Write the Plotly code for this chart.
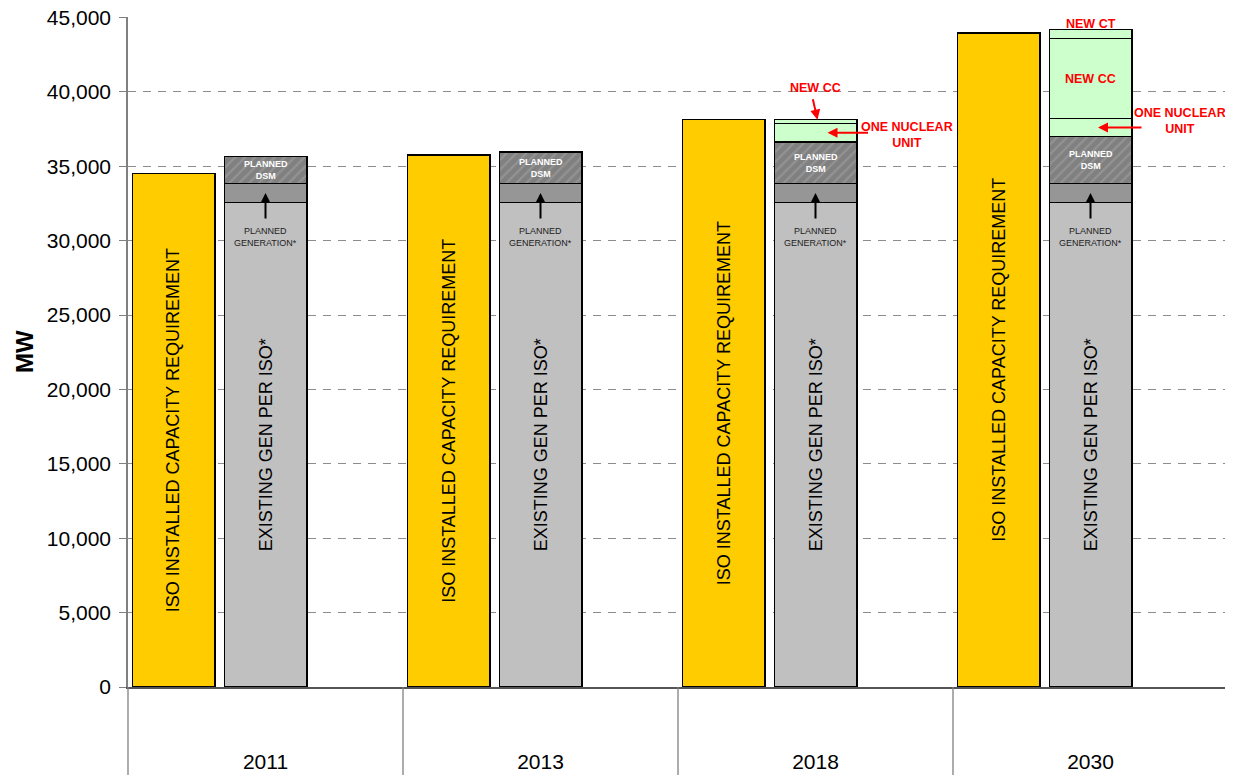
import plotly.graph_objects as go

# ---------------- data ----------------
years = ["2011", "2013", "2018", "2030"]
requirement = [34500, 35750, 38130, 43970]     # ISO installed capacity requirement
existing = [32550, 32550, 32550, 32550]        # existing gen per ISO
planned_gen = [1300, 1300, 1300, 1300]         # planned generation
planned_dsm = [1820, 2100, 2780, 3160]         # planned DSM
nuclear = [None, None, 1230, 1190]             # one nuclear unit
new_cc = [None, None, 270, 5390]               # new CC
new_ct = [None, None, None, 600]               # new CT
y_ticks = [0, 5000, 10000, 15000, 20000, 25000, 30000, 35000, 40000, 45000]

FONT = "Arial, Liberation Sans, sans-serif"
n = len(years)
x_req = [3 * i for i in range(n)]
x_gen = [3 * i + 1 for i in range(n)]
LINE = dict(color="#000000", width=1.5)
W = 0.9

fig = go.Figure()
fig.add_trace(go.Bar(x=x_req, y=requirement, width=W, marker=dict(color="#FFCC00", line=LINE),
                     name="ISO INSTALLED CAPACITY REQUIREMENT"))
fig.add_trace(go.Bar(x=x_gen, y=existing, width=W, marker=dict(color="#C0C0C0", line=LINE),
                     name="EXISTING GEN PER ISO*"))
fig.add_trace(go.Bar(x=x_gen, y=planned_gen, width=W, marker=dict(color="#969696", line=LINE),
                     name="PLANNED GENERATION*"))
fig.add_trace(go.Bar(x=x_gen, y=planned_dsm, width=W,
                     marker=dict(color="#808080", line=LINE,
                                 pattern=dict(shape="/", fgcolor="#a8a8a8", bgcolor="#808080",
                                              size=7, solidity=0.3)),
                     name="PLANNED DSM"))
fig.add_trace(go.Bar(x=x_gen, y=nuclear, width=W, marker=dict(color="#CCFFCC", line=LINE),
                     name="ONE NUCLEAR UNIT"))
fig.add_trace(go.Bar(x=x_gen, y=new_cc, width=W, marker=dict(color="#CCFFCC", line=LINE),
                     name="NEW CC"))
fig.add_trace(go.Bar(x=x_gen, y=new_ct, width=W, marker=dict(color="#CCFFCC", line=LINE),
                     name="NEW CT"))

ann = []
RED = "#FF0000"
RSIZE = 12.5
for i in range(n):
    xr, xg = x_req[i], x_gen[i]
    ann.append(dict(x=xr, y=requirement[i] / 2, text="ISO INSTALLED CAPACITY REQUIREMENT",
                    textangle=-90, showarrow=False, font=dict(family=FONT, size=18, color="#000")))
    ann.append(dict(x=xg, y=existing[i] / 2, text="EXISTING GEN PER ISO*",
                    textangle=-90, showarrow=False, font=dict(family=FONT, size=18, color="#000")))
    base_dsm = existing[i] + planned_gen[i]
    ann.append(dict(x=xg, y=base_dsm + planned_dsm[i] / 2, text="<b>PLANNED<br>DSM</b>",
                    showarrow=False, font=dict(family=FONT, size=9, color="#ffffff")))
    ann.append(dict(x=xg, y=existing[i] + planned_gen[i] / 2, text="", showarrow=True,
                    ax=0, ay=27, arrowhead=2, arrowsize=1, arrowwidth=2, arrowcolor="#000"))
    ann.append(dict(x=xg, y=existing[i], yshift=-34, text="PLANNED<br>GENERATION*",
                    showarrow=False, font=dict(family=FONT, size=9, color="#222")))
    top_nuc = base_dsm + planned_dsm[i]
    if nuclear[i] is not None:
        nuc_mid = top_nuc + nuclear[i] / 2
        cc_top = top_nuc + nuclear[i] + (new_cc[i] or 0)
        if new_ct[i] is None:
            # small CC sliver: label above the bar with arrow
            ann.append(dict(x=xg, y=cc_top, yshift=32, text="<b>NEW CC</b>", showarrow=False,
                            font=dict(family=FONT, size=RSIZE, color=RED)))
            ann.append(dict(x=xg, y=cc_top, xshift=2, text="", showarrow=True, ax=-5, ay=-22,
                            arrowhead=2, arrowsize=1, arrowwidth=2, arrowcolor=RED))
            ann.append(dict(x=xg, y=nuc_mid, xshift=12, text="", showarrow=True, ax=42, ay=0,
                            arrowhead=2, arrowsize=1, arrowwidth=2, arrowcolor=RED))
            ann.append(dict(x=xg, y=nuc_mid, xshift=91, yshift=-2, text="<b>ONE NUCLEAR<br>UNIT</b>",
                            showarrow=False, font=dict(family=FONT, size=RSIZE, color=RED)))
        else:
            total = cc_top + new_ct[i]
            ann.append(dict(x=xg, y=total, yshift=6, text="<b>NEW CT</b>", showarrow=False,
                            font=dict(family=FONT, size=RSIZE, color=RED)))
            ann.append(dict(x=xg, y=top_nuc + nuclear[i] + new_cc[i] / 2, text="<b>NEW CC</b>",
                            showarrow=False, font=dict(family=FONT, size=RSIZE, color=RED)))
            ann.append(dict(x=xg, y=nuc_mid, xshift=7.5, text="", showarrow=True, ax=45, ay=0,
                            arrowhead=2, arrowsize=1, arrowwidth=2, arrowcolor=RED))
            ann.append(dict(x=xg, y=nuc_mid, xshift=89.5, yshift=6, text="<b>ONE NUCLEAR<br>UNIT</b>",
                            showarrow=False, font=dict(family=FONT, size=RSIZE, color=RED)))

# y-axis title
ann.append(dict(xref="paper", yref="paper", x=-0.0945, y=0.5, xanchor="center", yanchor="middle",
                text="<b>MW</b>", textangle=-90, showarrow=False,
                font=dict(family=FONT, size=24, color="#000")))

# category-axis dividers (multi-level Excel style)
shapes = []
for k in range(n + 1):
    shapes.append(dict(type="line", xref="paper", yref="paper", x0=k / n, x1=k / n,
                       y0=0, y1=-0.14, line=dict(color="#808080", width=1.3)))

# page body has an 8px margin, so the figure is 8px smaller and margins shifted
fig.update_layout(
    width=1225, height=767,
    margin=dict(l=120, r=5, t=9, b=88, autoexpand=False),
    paper_bgcolor="#ffffff", plot_bgcolor="#ffffff",
    barmode="stack", showlegend=False,
    font=dict(family=FONT, color="#000"),
    annotations=ann, shapes=shapes,
    xaxis=dict(range=[-0.5, 3 * n - 0.5], tickvals=[3 * i + 1 for i in range(n)], ticktext=years,
               ticks="", showgrid=False, zeroline=False, showline=True, linecolor="#555555",
               linewidth=1.5, tickfont=dict(family=FONT, size=21, color="#000"),
               ticklabelstandoff=55, automargin=False),
    yaxis=dict(range=[0, 45030], tickvals=y_ticks, tickformat=",d", ticks="outside", ticklen=7,
               tickcolor="#808080", showline=True, linecolor="#808080", linewidth=1.5,
               showgrid=True, gridcolor="#8c8c8c", gridwidth=1, griddash="8px,7px",
               zeroline=False, tickfont=dict(family=FONT, size=21, color="#000"),
               ticklabelstandoff=4, automargin=False, ticklabeloverflow="allow"),
)

fig.write_html("out.html")
